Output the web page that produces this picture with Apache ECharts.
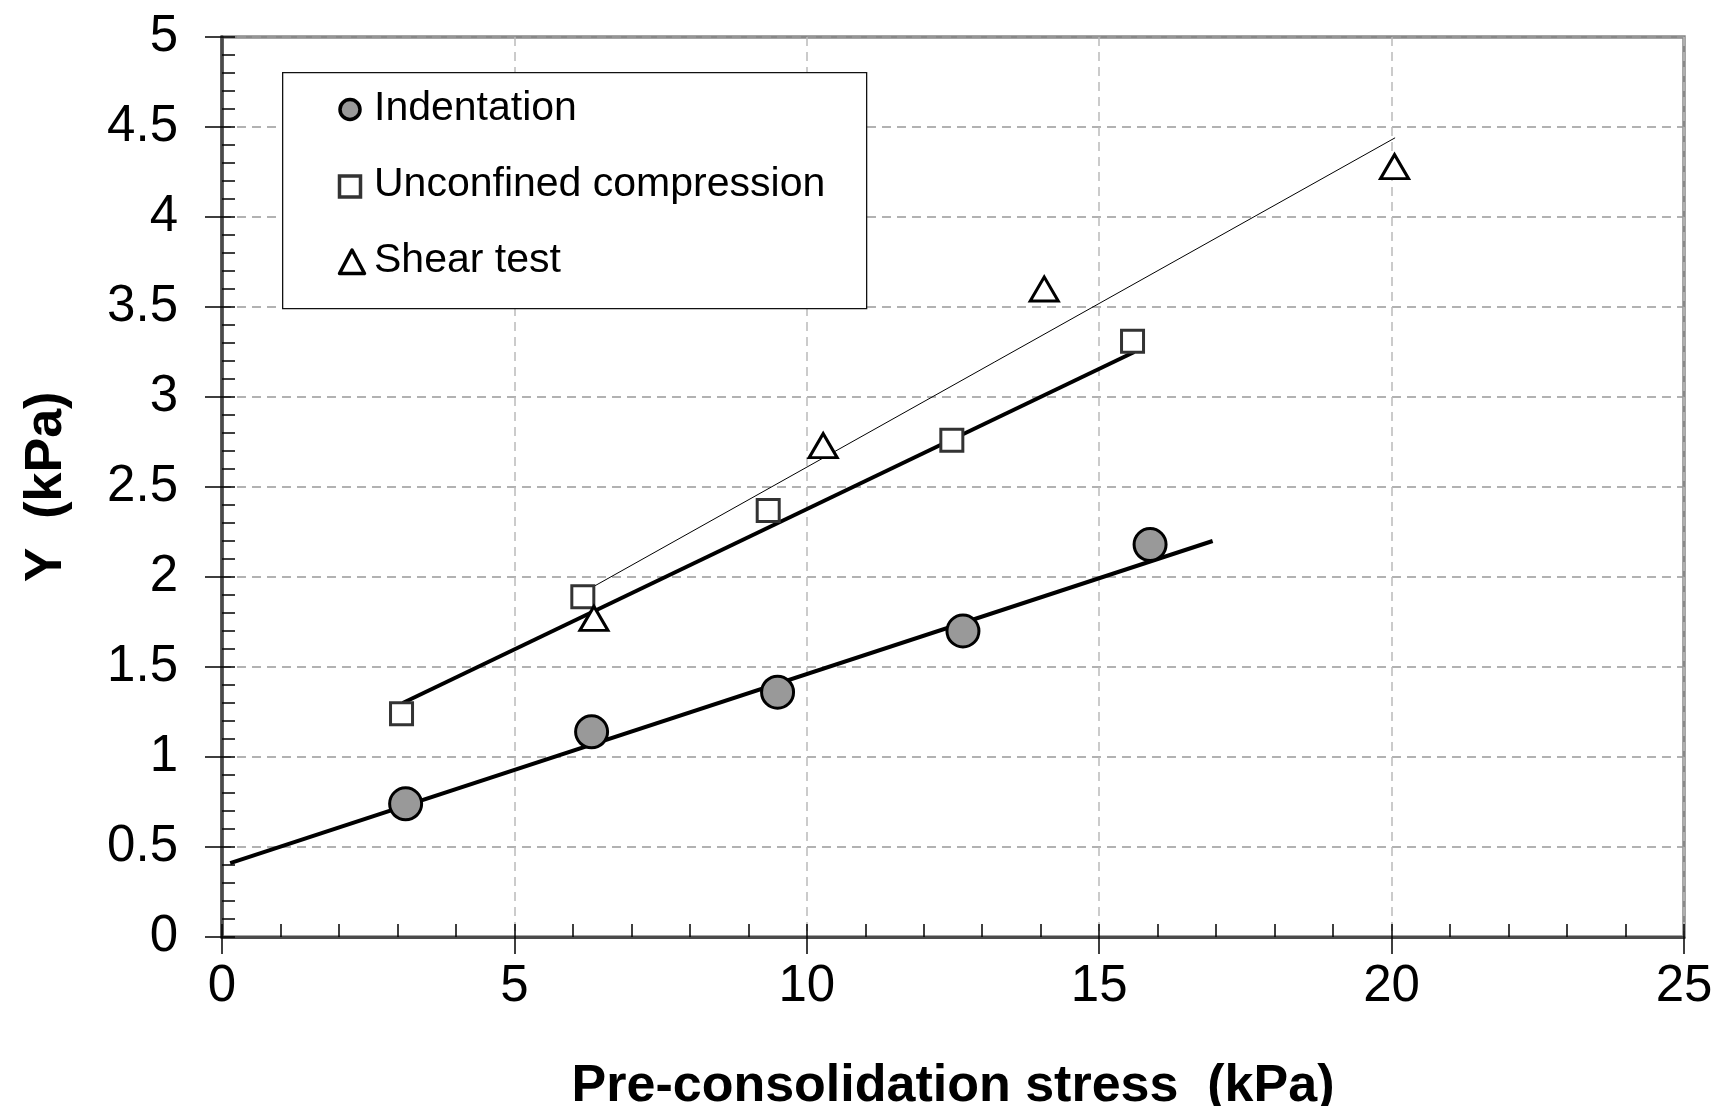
<!DOCTYPE html>
<html>
<head>
<meta charset="utf-8">
<script src="https://cdn.jsdelivr.net/npm/echarts@6/dist/echarts.min.js"></script>
<style>
html,body{margin:0;padding:0;background:#fff;}
#chart{width:1724px;height:1106px;}
</style>
</head>
<body>
<div id="chart"></div>
<script>
// ---- data ----
const seriesNames = ['Indentation', 'Unconfined compression', 'Shear test'];

const indentX = [3.14, 6.32, 9.50, 12.67, 15.87];
const indentY = [0.74, 1.14, 1.36, 1.70, 2.18];

const unconfX = [3.07, 6.17, 9.34, 12.48, 15.57];
const unconfY = [1.24, 1.89, 2.37, 2.76, 3.31];

const shearX = [6.36, 10.28, 14.06, 20.05];
const shearY = [1.77, 2.73, 3.60, 4.28];

// trend lines (end points)
const indentFitX = [0.14, 16.94];
const indentFitY = [0.41, 2.20];
const unconfFitX = [3.09, 15.60];
const unconfFitY = [1.30, 3.25];
const shearFitX = [6.37, 20.06];
const shearFitY = [1.95, 4.44];

const xTicks = [0, 5, 10, 15, 20, 25];
const yTicks = [0, 0.5, 1, 1.5, 2, 2.5, 3, 3.5, 4, 4.5, 5];

const pairs = (xs, ys) => xs.map((x, i) => [x, ys[i]]);

const FONT = '"Liberation Sans", Arial, Helvetica, sans-serif';

const chart = echarts.init(document.getElementById('chart'), null, {renderer: 'canvas'});

const option = {
  backgroundColor: '#ffffff',
  animation: false,
  textStyle: {fontFamily: FONT},
  grid: {
    left: 222, right: 40, top: 37, bottom: 169,
    containLabel: false, outerBoundsMode: 'none',
    show: true, borderColor: '#888888', borderWidth: 3.5, backgroundColor: 'transparent'
  },
  graphic: [
    { // legend frame
      type: 'rect', left: 282, top: 72, z: 1,
      shape: {width: 584, height: 236},
      style: {fill: '#ffffff', stroke: '#111111', lineWidth: 1.3}
    },
    { // legend key: indentation
      type: 'circle', z: 10,
      shape: {cx: 350, cy: 109.5, r: 10},
      style: {fill: '#999999', stroke: '#000000', lineWidth: 3.5}
    },
    { // legend key: unconfined compression
      type: 'rect', z: 10,
      shape: {x: 339.5, y: 176, width: 21, height: 21},
      style: {fill: '#ffffff', stroke: '#333333', lineWidth: 3.5}
    },
    { // legend key: shear test
      type: 'polygon', z: 10,
      shape: {points: [[352, 250], [364.5, 273.5], [339.5, 273.5]]},
      style: {fill: '#ffffff', stroke: '#000000', lineWidth: 3.5, lineJoin: 'round'}
    }
  ],
  legend: {
    data: seriesNames.map(n => ({name: n, icon: 'none'})),
    orient: 'vertical',
    left: 338, top: 87, padding: 0,
    itemWidth: 23, itemHeight: 23, itemGap: 32,
    z: 5,
    textStyle: {fontFamily: FONT, fontSize: 41, color: '#000', lineHeight: 44, padding: [0, 0, 0, 8]}
  },
  xAxis: [{
    type: 'value', min: 0, max: 25, interval: 5,
    position: 'bottom',
    name: 'Pre-consolidation stress  (kPa)',
    nameLocation: 'middle', nameGap: 124,
    nameTextStyle: {fontFamily: FONT, fontSize: 52, fontWeight: 'bold', color: '#000'},
    axisLine: {show: true, onZero: false, lineStyle: {color: '#4a4a4a', width: 3}},
    axisTick: {show: true, inside: false, length: 17, lineStyle: {color: '#000', width: 1.5}},
    axisLabel: {fontFamily: FONT, fontSize: 51, color: '#000', margin: 24,
      formatter: v => xTicks.includes(v) ? String(v) : ''},
    splitLine: {show: true, lineStyle: {color: '#bbbbbb', width: 1.5, type: [9, 6]}}
  }, {
    type: 'value', min: 0, max: 25, interval: 1,
    position: 'bottom',
    axisLine: {show: false, onZero: false},
    axisTick: {show: true, inside: true, length: 13, lineStyle: {color: '#000', width: 1.5}},
    axisLabel: {show: false},
    splitLine: {show: false}
  }],
  yAxis: [{
    type: 'value', min: 0, max: 5, interval: 0.5,
    position: 'left',
    name: 'Y  (kPa)',
    nameLocation: 'middle', nameGap: 149, nameRotate: 90,
    nameTextStyle: {fontFamily: FONT, fontSize: 52, fontWeight: 'bold', color: '#000'},
    axisLine: {show: true, onZero: false, lineStyle: {color: '#4a4a4a', width: 3.5}},
    axisTick: {show: true, inside: false, length: 17, lineStyle: {color: '#000', width: 1.5}},
    axisLabel: {fontFamily: FONT, fontSize: 51, color: '#000', margin: 44,
      formatter: v => yTicks.includes(v) ? String(v) : ''},
    splitLine: {show: true, lineStyle: {color: '#999999', width: 1.5, type: [9, 6]}}
  }, {
    type: 'value', min: 0, max: 5, interval: 0.1,
    position: 'left',
    axisLine: {show: false, onZero: false},
    axisTick: {show: true, inside: true, length: 13, lineStyle: {color: '#000', width: 1.5}},
    axisLabel: {show: false},
    splitLine: {show: false}
  }],
  series: [
    {
      name: 'indentFit', type: 'line', xAxisIndex: 0, yAxisIndex: 0,
      data: pairs(indentFitX, indentFitY), showSymbol: false, symbol: 'none', silent: true, z: 2,
      lineStyle: {color: '#000', width: 4}
    },
    {
      name: 'unconfFit', type: 'line', xAxisIndex: 0, yAxisIndex: 0,
      data: pairs(unconfFitX, unconfFitY), showSymbol: false, symbol: 'none', silent: true, z: 2,
      lineStyle: {color: '#000', width: 4}
    },
    {
      name: 'shearFit', type: 'line', xAxisIndex: 0, yAxisIndex: 0,
      data: pairs(shearFitX, shearFitY), showSymbol: false, symbol: 'none', silent: true, z: 2,
      lineStyle: {color: '#000', width: 1}
    },
    {
      name: seriesNames[0], type: 'scatter', xAxisIndex: 0, yAxisIndex: 0,
      data: pairs(indentX, indentY), symbol: 'circle', symbolSize: 32, z: 3,
      itemStyle: {color: '#999999', borderColor: '#000', borderWidth: 3, opacity: 1}
    },
    {
      name: seriesNames[1], type: 'scatter', xAxisIndex: 0, yAxisIndex: 0,
      data: pairs(unconfX, unconfY), symbol: 'rect', symbolSize: 22, z: 3,
      itemStyle: {color: '#ffffff', borderColor: '#333', borderWidth: 3, opacity: 1}
    },
    {
      name: seriesNames[2], type: 'scatter', xAxisIndex: 0, yAxisIndex: 0,
      data: pairs(shearX, shearY), symbol: 'triangle', symbolSize: [28, 24], z: 3,
      itemStyle: {color: '#ffffff', borderColor: '#000', borderWidth: 3, opacity: 1}
    }
  ]
};

chart.setOption(option);
</script>
</body>
</html>
